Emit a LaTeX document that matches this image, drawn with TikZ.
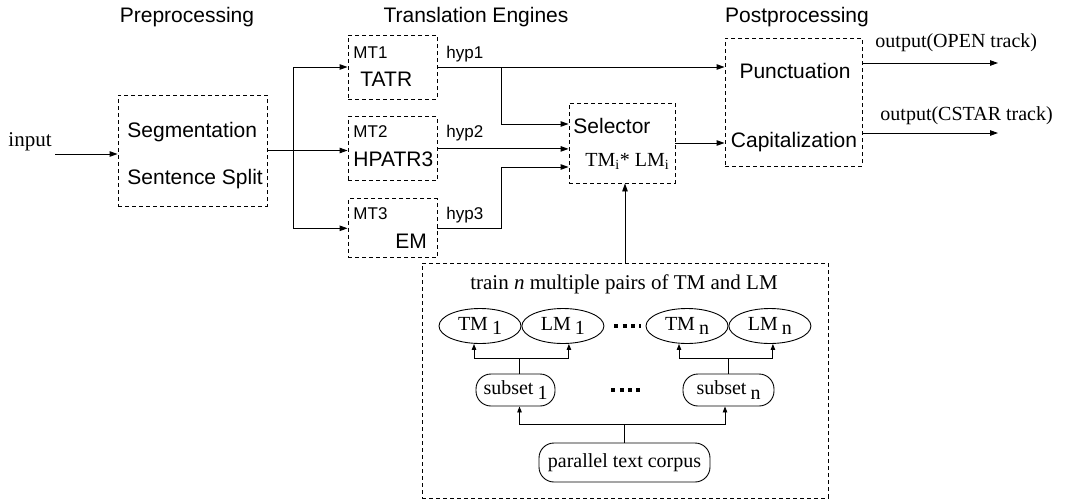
\documentclass[tikz,border=0pt]{standalone}
\usepackage{fontspec}
\setmainfont{Liberation Serif}
\setsansfont{Liberation Sans}
\usepackage{tikz}
\usetikzlibrary{arrows.meta,positioning,shapes.geometric,calc}
\newcommand{\lowidx}[1]{\hspace{0.2em}\raisebox{-0.5ex}{#1}}

\begin{document}
\begin{tikzpicture}[x=1pt, y=-1pt, line width=0.9pt,
  stagebox/.style={rectangle, draw, dash pattern=on 4pt off 3pt, inner sep=0pt},
  head/.style={font=\sffamily\fontsize{21}{25}\selectfont, anchor=base, inner sep=0pt},
  lbl/.style={font=\sffamily\fontsize{21}{25}\selectfont, anchor=base west, inner sep=0pt},
  tag/.style={font=\sffamily\fontsize{17}{20}\selectfont, anchor=base west, inner sep=0pt},
  rmtext/.style={font=\fontsize{20}{24}\selectfont, anchor=base west, inner sep=0pt},
  model/.style={ellipse, draw, minimum width=82pt, minimum height=35pt, inner sep=0pt,
                font=\fontsize{20}{24}\selectfont},
  pill/.style={rectangle, draw, rounded corners=15pt, minimum height=32pt, inner sep=0pt,
               font=\fontsize{20}{24}\selectfont},
  arr/.style={-{Triangle[length=8pt,width=5.5pt]}},
  arrs/.style={-{Triangle[length=6pt,width=4.5pt]}},
  dotrow/.style={line width=3.5pt, dash pattern=on 4pt off 4.3pt},
]
  \useasboundingbox (0,0) rectangle (1068,501);

  % stage headings
  \node[head] (hpre) at (187,22) {Preprocessing};
  \node[head] (htrans) at (476,22) {Translation Engines};
  \node[head] (hpost) at (797,22) {Postprocessing};

  % boxes
  \node[stagebox, minimum width=149pt, minimum height=111pt] (pre) at (192.5,150.5) {};
  \node[stagebox, minimum width=89pt, minimum height=64pt] (mt1) at (392.5,67) {};
  \node[stagebox, minimum width=89pt, minimum height=64pt, below=17pt of mt1] (mt2) {};
  \node[stagebox, minimum width=89pt, minimum height=59pt, below=17pt of mt2] (mt3) {};
  \node[stagebox, minimum width=106pt, minimum height=80pt] (sel) at (622,143) {};
  \node[stagebox, minimum width=137pt, minimum height=128pt] (post) at (793.5,102) {};
  \node[stagebox, minimum width=406pt, minimum height=235pt] (train) at (625,380.5) {};

  % texts in the boxes
  \node[lbl] (seg) at (127,137.5) {Segmentation};
  \node[lbl] (sent) at (127,184.5) {Sentence Split};
  \node[tag] (mt1tag) at (353,58) {MT1};
  \node[tag] (mt2tag) at (353,137) {MT2};
  \node[tag] (mt3tag) at (353,219) {MT3};
  \node[lbl] (tatr) at (360,86.5) {TATR};
  \node[lbl] (hpatr) at (353,166.5) {HPATR3};
  \node[lbl] (em) at (395,248.5) {EM};
  \node[tag] (hyp1) at (446,58) {hyp1};
  \node[tag] (hyp2) at (446,137) {hyp2};
  \node[tag] (hyp3) at (446,219) {hyp3};
  \node[lbl] (seltxt) at (573,133.5) {Selector};
  \node[rmtext] (score) at (585,166.5) {TM\textsubscript{i}* LM\textsubscript{i}};
  \node[head] (punct) at (795,78.5) {Punctuation};
  \node[head] (capit) at (794,147.5) {Capitalization};

  % input / outputs
  \node[rmtext, font=\fontsize{21}{25}\selectfont] (inp) at (8,146) {input};
  \node[rmtext] (openlbl) at (875,47) {output(OPEN track)};
  \node[rmtext] (cstarlbl) at (880,120) {output(CSTAR track)};
  \coordinate (inpt) at (55,154);
  \coordinate (out1) at (998,63);
  \coordinate (out2) at (998,133);
  \draw[arr] (inpt) -- (inpt -| pre.west);
  \draw[arr] (out1 -| post.east) -- (out1);
  \draw[arr] (out2 -| post.east) -- (out2);

  % fan out to the engines
  \coordinate (fork) at (293,150.5);
  \draw (pre.east) -- (fork);
  \draw (fork |- mt1.west) -- (fork |- mt3.west);
  \draw[arr] (fork |- mt1.west) -- (mt1.west);
  \draw[arr] (pre.east) -- (pre.east -| mt2.west);
  \draw[arr] (fork |- mt3.west) -- (mt3.west);

  % hypotheses to selector / postprocessing
  \coordinate (merge) at (501,0);
  \draw[arr] (mt1.east) -- (mt1.east -| post.west);
  \draw[arr] (mt1.east -| merge) |- ([yshift=19pt]sel.west);
  \draw[arr] (mt2.east) -- (mt2.east -| sel.west);
  \draw[arr] (mt3.east) -- (mt3.east -| merge) |- ([yshift=-24pt]sel.west);
  \draw[arr] (sel.east) -- (sel.east -| post.west);
  \draw[arr] (train.north) -- (train.north |- sel.south);

  % model training
  \node[rmtext, anchor=base, font=\fontsize{21}{25}\selectfont] (trainlbl) at (624,289)
    {train \textit{n} multiple pairs of TM and LM};
  \node[model] (tm1) at (480,326) {TM\lowidx{1}};
  \node[model, right=0pt of tm1] (lm1) {LM\lowidx{1}};
  \node[model] (tmn) at (687,326) {TM\lowidx{n}};
  \node[model, right=0pt of tmn] (lmn) {LM\lowidx{n}};
  \node[pill, minimum width=79pt] (sub1) at (515.5,390) {subset\lowidx{1}};
  \node[pill, minimum width=91pt] (subn) at (728.5,390) {subset\lowidx{n}};
  \node[pill, minimum width=171pt, minimum height=39pt] (corpus) at (624.5,462.5) {parallel text corpus};
  \draw[dotrow, shorten <=10pt, shorten >=5pt] (lm1.east) -- (tmn.west);
  \draw[dotrow, shorten <=56pt, shorten >=43pt] (sub1.east) -- (subn.west);

  \draw ([xshift=4pt]sub1.north) -- ++(0,-15) coordinate (j1);
  \draw[arrs] (j1) -| ([xshift=-6pt]tm1.south);
  \draw[arrs] (j1) -| ([xshift=6pt]lm1.south);
  \draw (subn.north) -- ++(0,-15) coordinate (jn);
  \draw[arrs] (jn) -| ([xshift=-8pt]tmn.south);
  \draw[arrs] (jn) -| ([xshift=3pt]lmn.south);
  \draw (corpus.north) -- ++(0,-18) coordinate (jc);
  \draw[arrs] (jc) -| ([xshift=4pt]sub1.south);
  \draw[arrs] (jc) -| ([xshift=-3.5pt]subn.south);
\end{tikzpicture}
\end{document}
